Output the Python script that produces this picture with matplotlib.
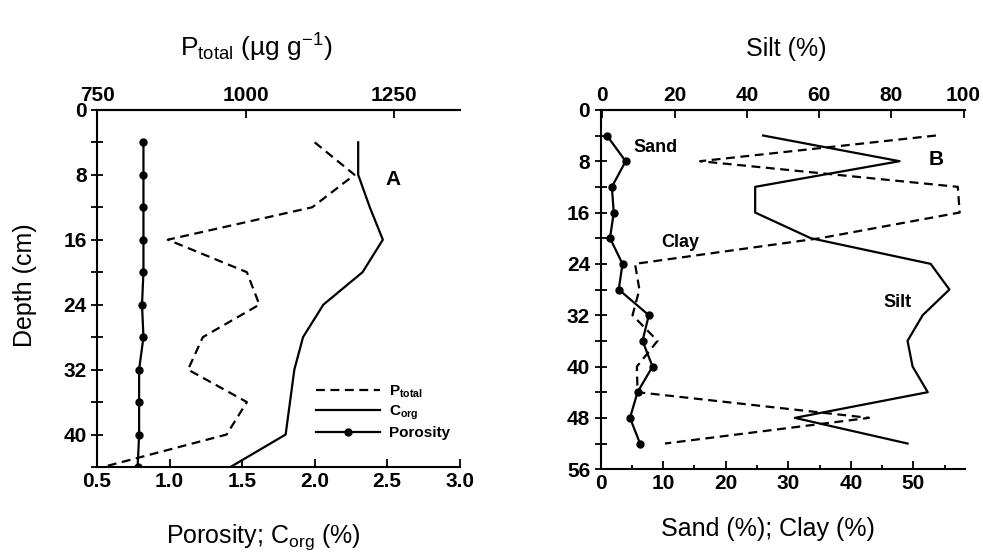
import numpy as np
import matplotlib
matplotlib.use("Agg")
import matplotlib.pyplot as plt
from matplotlib.ticker import MultipleLocator

plt.rcParams['font.family'] = ['Liberation Sans', 'DejaVu Sans']
plt.rcParams['mathtext.fontset'] = 'custom'
plt.rcParams['mathtext.rm'] = 'Liberation Sans'
plt.rcParams['mathtext.it'] = 'Liberation Sans:italic'
plt.rcParams['mathtext.bf'] = 'Liberation Sans:bold'

# --- Panel A data ---
depth_a = [4, 8, 12, 16, 20, 24, 28, 32, 36, 40, 44]
porosity = [0.82, 0.82, 0.82, 0.82, 0.82, 0.81, 0.82, 0.79, 0.79, 0.79, 0.78]
corg = [2.30, 2.30, 2.38, 2.47, 2.33, 2.06, 1.92, 1.86, 1.83, 1.80, 1.42]
ptotal = [1116, 1183, 1112, 869, 1002, 1023, 928, 903, 1002, 968, 760]

# --- Panel B data ---
depth_b = [4, 8, 12, 16, 20, 24, 28, 32, 36, 40, 44, 48, 52]
sand = [1.0, 4.0, 1.8, 2.1, 1.5, 3.5, 2.9, 7.7, 6.7, 8.3, 5.9, 4.7, 6.3]
clay = [53.6, 15.9, 57.1, 57.4, 35.1, 5.5, 6.2, 5.1, 9.1, 5.8, 5.9, 42.9, 10.3]
silt = [44.5, 82.3, 42.3, 42.3, 57.7, 90.9, 96.1, 88.7, 84.5, 85.9, 90.1, 53.3, 84.5]

LW = 1.6
DASH = (4, 2.5)
TICKFONT = dict(fontsize=15, fontweight='bold')
LABELSIZE = 18

fig = plt.figure(figsize=(9.83, 5.52), dpi=100)


def style_axes(ax, top):
    for a in (ax, top):
        a.spines['right'].set_visible(False)
        for s in a.spines.values():
            s.set_linewidth(1.5)
    top.spines['bottom'].set_visible(False)
    top.spines['left'].set_visible(False)
    ax.tick_params(axis='y', which='both', direction='inout', length=8, width=1.3)
    ax.tick_params(axis='y', which='minor', length=8)
    ax.tick_params(axis='x', which='both', direction='in', length=6, width=1.3)
    top.tick_params(axis='x', which='both', direction='in', length=6, width=1.3)
    for lab in ax.get_xticklabels() + ax.get_yticklabels() + top.get_xticklabels():
        lab.set_fontsize(TICKFONT['fontsize'])
        lab.set_fontweight(TICKFONT['fontweight'])


# --- Panel A ---
axA = fig.add_axes([0.0987, 0.154, 0.369, 0.647])
axA_top = axA.twiny()

l_por, = axA.plot(porosity, depth_a, color='black', lw=LW, marker='o', markersize=5,
                  label='Porosity')
l_corg, = axA.plot(corg, depth_a, color='black', lw=LW, label=r'C$_{\mathbf{org}}$')
l_pt, = axA_top.plot(ptotal, depth_a, color='black', lw=LW, linestyle=(0, DASH),
                     label=r'P$_{\mathbf{total}}$')

axA.set_xlim(0.5, 3.0)
axA.set_ylim(44, 0)
axA_top.set_xlim(750, 1360)
axA.set_xticks([0.5, 1.0, 1.5, 2.0, 2.5, 3.0])
axA.set_xticklabels(['0.5', '1.0', '1.5', '2.0', '2.5', '3.0'])
axA.set_yticks([0, 8, 16, 24, 32, 40])
axA.yaxis.set_minor_locator(MultipleLocator(4))
axA_top.set_xticks([750, 1000, 1250])
style_axes(axA, axA_top)

axA.set_ylabel('Depth (cm)', fontsize=LABELSIZE)
axA.yaxis.set_label_coords(-0.165, 0.51)
axA.set_xlabel(r'Porosity; C$_{\mathrm{org}}$ (%)', fontsize=LABELSIZE)
axA.xaxis.set_label_coords(0.46, -0.155)
axA_top.set_xlabel(r'P$_{\mathrm{total}}$ (µg g$^{-1}$)', fontsize=19)
axA_top.xaxis.set_label_coords(0.44, 1.15)

axA.text(2.54, 8.6, 'A', fontsize=15, fontweight='bold', ha='center', va='center')

leg = axA.legend(handles=[l_pt, l_corg, l_por], loc='lower right',
                 bbox_to_anchor=(1.0, 0.05), frameon=False, handlelength=4.2,
                 handletextpad=0.6, labelspacing=0.25, borderaxespad=0.2,
                 prop=dict(size=11, weight='bold'))

# --- Panel B ---
axB = fig.add_axes([0.611, 0.150, 0.371, 0.651])
axB_top = axB.twiny()

axB.plot(sand, depth_b, color='black', lw=LW, marker='o', markersize=5)
axB.plot(clay, depth_b, color='black', lw=LW, linestyle=(0, DASH))
axB_top.plot(silt, depth_b, color='black', lw=LW)

axB.set_xlim(0, 58.3)
axB.set_ylim(56, 0)
axB_top.set_xlim(-0.5, 100.5)
axB.set_xticks([0, 10, 20, 30, 40, 50])
axB.xaxis.set_minor_locator(MultipleLocator(5))
axB.set_yticks([0, 8, 16, 24, 32, 40, 48, 56])
axB.yaxis.set_minor_locator(MultipleLocator(4))
axB_top.set_xticks([0, 20, 40, 60, 80, 100])
style_axes(axB, axB_top)
axB.tick_params(axis='x', which='minor', length=3)

axB.set_xlabel('Sand (%); Clay (%)', fontsize=LABELSIZE)
axB.xaxis.set_label_coords(0.46, -0.134)
axB_top.set_xlabel('Silt (%)', fontsize=LABELSIZE)
axB_top.xaxis.set_label_coords(0.51, 1.15)

axB.text(8.7, 5.9, 'Sand', fontsize=13, fontweight='bold', ha='center', va='center')
axB.text(53.6, 7.8, 'B', fontsize=15, fontweight='bold', ha='center', va='center')
axB.text(12.7, 20.7, 'Clay', fontsize=13, fontweight='bold', ha='center', va='center')
axB.text(47.5, 30.0, 'Silt', fontsize=13, fontweight='bold', ha='center', va='center')

fig.savefig('out.png', dpi=100)
plt.close(fig)
